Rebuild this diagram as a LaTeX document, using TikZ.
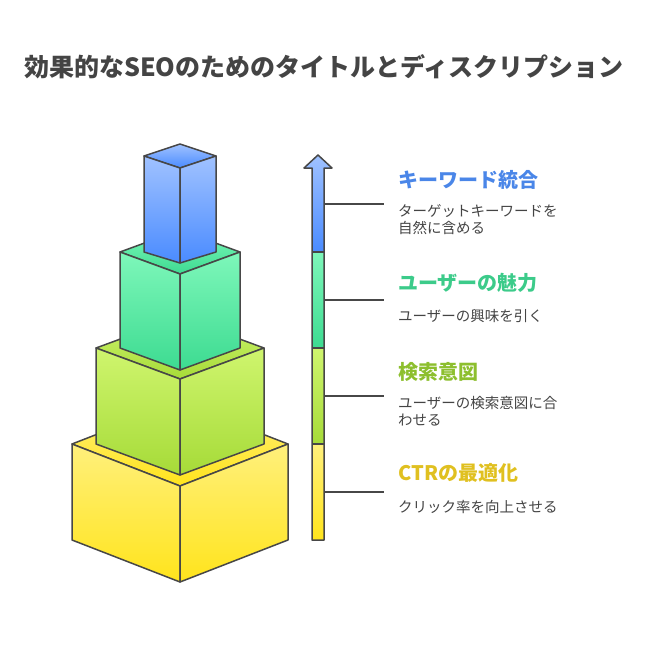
\documentclass[tikz,border=0pt]{standalone}
\usepackage{fontspec}
\setmainfont{Noto Sans CJK JP}
\definecolor{ln}{HTML}{474747}
\definecolor{tx}{HTML}{444444}
\definecolor{cB}{HTML}{4A86E8}
\definecolor{cT}{HTML}{3CCB8A}
\definecolor{cL}{HTML}{8DBF2E}
\definecolor{cY}{HTML}{E0C020}
\definecolor{bT}{HTML}{A0C2FF}\definecolor{bB}{HTML}{4A8BFF}
\definecolor{tT}{HTML}{7EF7BA}\definecolor{tB}{HTML}{3DDB91}
\definecolor{lT}{HTML}{CFF56E}\definecolor{lB}{HTML}{A6DB38}
\definecolor{yT}{HTML}{FFF07C}\definecolor{yB}{HTML}{FFE41C}
\newcommand\mybox[8]{%
 \pgfmathsetmacro\yb{2*#3-#4}
 \shade[top color=#7,bottom color=#8,draw=ln,line width=1.5pt,line join=round]
  (#1-#2,#3)--(#1,\yb)--(#1+#2,#3)--(#1,#4)--cycle;
 \shade[top color=#7,bottom color=#8,draw=ln,line width=1.5pt,line join=round]
  (#1-#2,#3)--(#1,#4)--(#1,#6)--(#1-#2,#5)--cycle;
 \shade[top color=#7,bottom color=#8,draw=ln,line width=1.5pt,line join=round]
  (#1+#2,#3)--(#1,#4)--(#1,#6)--(#1+#2,#5)--cycle;}
\tikzset{ttl/.style={anchor=west,inner sep=0pt,font=\bfseries\fontsize{20}{24}\selectfont},
 dsc/.style={anchor=north west,text=tx,font=\fontsize{14.5}{17}\selectfont,align=left,inner sep=0pt},
 tick/.style={draw=ln,line width=1.5pt}}
\begin{document}
\begin{tikzpicture}[x=1pt,y=-1pt]
\useasboundingbox (0,0) rectangle (648,672);
\node[text=tx,font=\bfseries\fontsize{25}{30}\selectfont] (title) at (324,67) {効果的なSEOのためのタイトルとディスクリプション};
\mybox{180}{108}{444}{486}{540}{582}{yT}{yB}
\mybox{180}{84}{348}{379}{444}{475}{lT}{lB}
\mybox{180}{60}{252}{274}{348}{370}{tT}{tB}
\mybox{180}{36}{156}{168}{252}{263}{bT}{bB}
% bar
\shade[top color=yT,bottom color=yB] (312,444) rectangle (324,540);
\shade[top color=lT,bottom color=lB] (312,348) rectangle (324,444);
\shade[top color=tT,bottom color=tB] (312,252) rectangle (324,348);
\shade[top color=bT,bottom color=bB] (312,252)--(312,168)--(304,168)--(318,155)--(332,168)--(324,168)--(324,252)--cycle;
\draw[ln,line width=1.5pt,line join=round] (312,540)--(312,168)--(304,168)--(318,155)--(332,168)--(324,168)--(324,540)--cycle;
\foreach \y in {252,348,444}{\draw[ln,line width=1.5pt] (312,\y)--(324,\y);}
\foreach \y/\n in {204/a,300/b,396/c,492/d}{
 \coordinate (s\n) at (324,\y); \coordinate (e\n) at (384,\y);
 \draw[tick] (s\n)--(e\n);}
\node[ttl,text=cB] (t1) at (398,180) {キーワード統合};
\node[dsc] (d1) at (398,204) {ターゲットキーワードを\\自然に含める};
\node[ttl,text=cT] (t2) at (398,283) {ユーザーの魅力};
\node[dsc] (d2) at (398,309) {ユーザーの興味を引く};
\node[ttl,text=cL] (t3) at (398,372) {検索意図};
\node[dsc] (d3) at (398,396) {ユーザーの検索意図に合\\わせる};
\node[ttl,text=cY] (t4) at (398,473) {CTRの最適化};
\node[dsc] (d4) at (398,500) {クリック率を向上させる};
\end{tikzpicture}
\end{document}
